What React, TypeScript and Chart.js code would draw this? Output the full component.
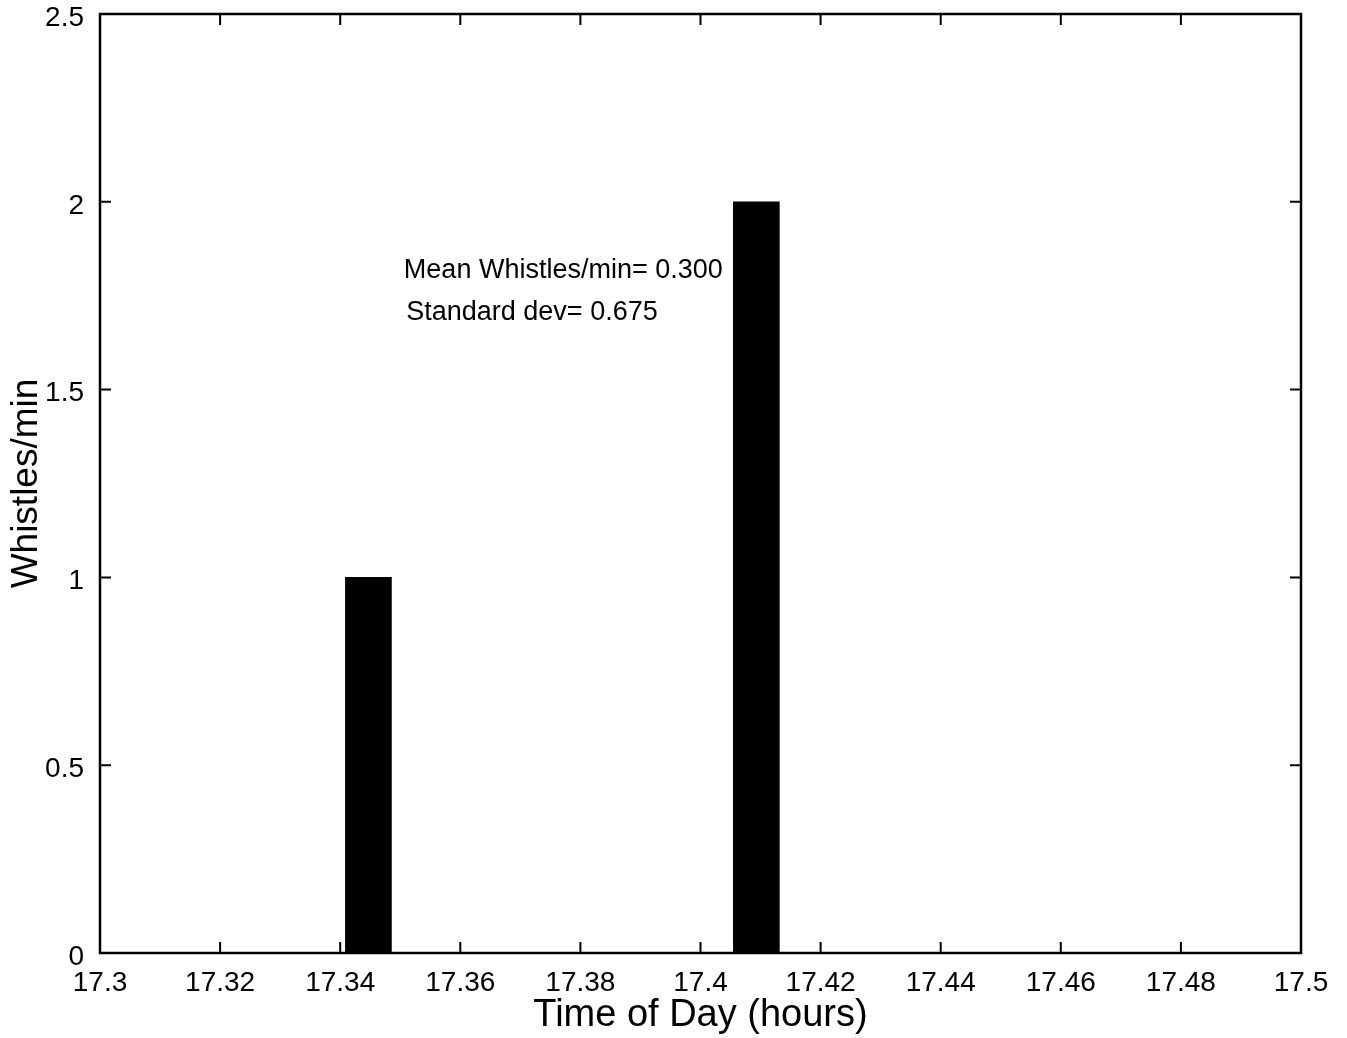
import React, { useEffect, useRef } from "react";
import { Chart, registerables } from "chart.js";

Chart.register(...registerables);

// Data
const binTimes = [17.3447, 17.4093];
const whistlesPerMin = [1, 2];
const xTickValues = [17.3, 17.32, 17.34, 17.36, 17.38, 17.4, 17.42, 17.44, 17.46, 17.48, 17.5];
const yTickValues = [0, 0.5, 1, 1.5, 2, 2.5];
const annotationLines = ["Mean Whistles/min= 0.300", "Standard dev= 0.675"];
const annotationXs = [17.3506, 17.351];
const annotationYs = [1.818, 1.704];

const FONT = "'Liberation Sans', Arial, Helvetica, sans-serif";

const boxPlugin = {
  id: "matlabBox",
  afterDraw(chart: any) {
    const { ctx, chartArea, scales } = chart;
    const { left, right, top, bottom } = chartArea;
    const x = scales.x;
    const y = scales.y;
    ctx.save();
    ctx.strokeStyle = "#000";
    ctx.lineWidth = 2.5;
    ctx.strokeRect(left, top, right - left, bottom - top);
    ctx.lineWidth = 2;
    const tl = 11;
    ctx.beginPath();
    xTickValues.forEach((v) => {
      const px = x.getPixelForValue(v);
      ctx.moveTo(px, bottom);
      ctx.lineTo(px, bottom - tl);
      ctx.moveTo(px, top);
      ctx.lineTo(px, top + tl);
    });
    yTickValues.forEach((v) => {
      const py = y.getPixelForValue(v);
      ctx.moveTo(left, py);
      ctx.lineTo(left + tl, py);
      ctx.moveTo(right, py);
      ctx.lineTo(right - tl, py);
    });
    ctx.stroke();
    ctx.fillStyle = "#000";
    ctx.font = `27px ${FONT}`;
    ctx.textAlign = "left";
    ctx.textBaseline = "middle";
    annotationLines.forEach((t, i) => {
      ctx.fillText(t, x.getPixelForValue(annotationXs[i]), y.getPixelForValue(annotationYs[i]));
    });
    ctx.restore();
  },
};

export default function App() {
  const ref = useRef<HTMLCanvasElement>(null);
  useEffect(() => {
    if (!ref.current) return;
    const chart = new Chart(ref.current, {
      type: "bar",
      data: {
        datasets: [
          {
            label: "Whistles/min",
            data: binTimes.map((t, i) => ({ x: t, y: whistlesPerMin[i] })),
            backgroundColor: "#000",
            borderWidth: 0,
            barThickness: 46,
          },
        ],
      },
      options: {
        animation: false,
        responsive: false,
        devicePixelRatio: 1,
        layout: { padding: { top: 14, right: 46, left: 0, bottom: 0 } },
        plugins: { legend: { display: false }, tooltip: { enabled: false } },
        scales: {
          x: {
            type: "linear",
            min: 17.3,
            max: 17.5,
            offset: false,
            grid: { display: false, offset: false },
            border: { display: false },
            afterBuildTicks: (s: any) => {
              s.ticks = xTickValues.map((v) => ({ value: v }));
            },
            afterFit: (s: any) => {
              s.height = 85;
              s.paddingLeft = 0;
              s.paddingRight = 0;
            },
            ticks: {
              autoSkip: false,
              maxRotation: 0,
              padding: 5,
              color: "#000",
              font: { family: FONT, size: 28 },
              callback: (v: any) => parseFloat(Number(v).toFixed(2)).toString(),
            },
            title: {
              display: true,
              text: "Time of Day (hours)",
              color: "#000",
              font: { family: FONT, size: 38 },
              padding: { top: 0, bottom: 0 },
            },
          },
          y: {
            type: "linear",
            min: 0,
            max: 2.5,
            grid: { display: false },
            border: { display: false },
            afterBuildTicks: (s: any) => {
              s.ticks = yTickValues.map((v) => ({ value: v }));
            },
            afterFit: (s: any) => {
              s.width = 100;
              s.paddingTop = 0;
              s.paddingBottom = 0;
            },
            ticks: {
              autoSkip: false,
              padding: 8,
              labelOffset: 4,
              color: "#000",
              font: { family: FONT, size: 28 },
              callback: (v: any) => String(v),
            },
            title: {
              display: true,
              text: "Whistles/min",
              color: "#000",
              font: { family: FONT, size: 37 },
              padding: { top: 5, bottom: 0 },
            },
          },
        },
      },
      plugins: [boxPlugin],
    } as any);
    return () => chart.destroy();
  }, []);
  return (
    <div style={{ position: "absolute", left: 0, top: 0, width: 1347, height: 1038, overflow: "hidden", background: "#fff" }}>
      <canvas ref={ref} width={1347} height={1038} style={{ display: "block" }} />
    </div>
  );
}
